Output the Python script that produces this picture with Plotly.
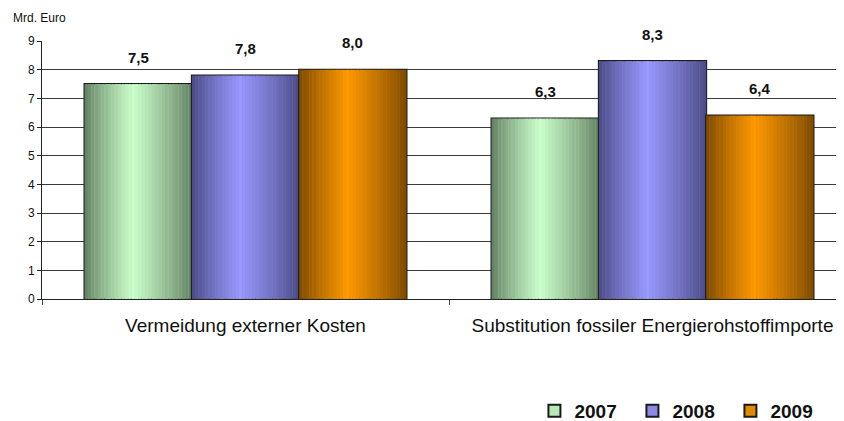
import plotly.graph_objects as go

categories = ["Vermeidung externer Kosten", "Substitution fossiler Energierohstoffimporte"]
years = ["2007", "2008", "2009"]
values_2007 = [7.5, 6.3]
values_2008 = [7.8, 8.3]
values_2009 = [8.0, 6.4]
series_values = [values_2007, values_2008, values_2009]
y_ticks = [0, 1, 2, 3, 4, 5, 6, 7, 8, 9]

# styling
dark_cols = [(95, 125, 95), (72, 72, 128), (118, 72, 0)]
light_cols = [(204, 255, 204), (153, 153, 255), (255, 153, 0)]
mid_cols = ["#b8e8b8", "#8a8ae6", "#e08a00"]
BAR_W = 0.2637
K = 32
PEAK = 0.45
FONT = "Liberation Sans, Arial, sans-serif"

cat_pos = list(range(len(categories)))

def grad_color(s, t):
    u = t / PEAK if t < PEAK else (1 - t) / (1 - PEAK)
    w = u ** 0.85
    d, l = dark_cols[s], light_cols[s]
    c = [round(d[i] + (l[i] - d[i]) * w) for i in range(3)]
    return f"rgb({c[0]},{c[1]},{c[2]})"

fig = go.Figure()
n = len(years)
for s, (yr, vals) in enumerate(zip(years, series_values)):
    off = -n * BAR_W / 2 + s * BAR_W
    # outline underneath (also legend entry)
    fig.add_trace(go.Bar(
        x=cat_pos, y=vals, name=yr, width=BAR_W, offset=off,
        marker=dict(color=mid_cols[s], line=dict(color="#1a1a1a", width=2)),
        showlegend=True, hoverinfo="skip"))
    for k in range(K):
        t = (k + 0.5) / K
        fig.add_trace(go.Bar(
            x=cat_pos, y=vals, width=BAR_W / K * 1.02, offset=off + k * BAR_W / K,
            marker=dict(color=grad_color(s, t), line=dict(width=0)),
            showlegend=False, hoverinfo="skip"))
    for c, v in zip(cat_pos, vals):
        fig.add_annotation(x=c + off + BAR_W / 2, y=v, yshift=27,
                           text=f"<b>{v:.1f}</b>".replace(".", ","), showarrow=False,
                           font=dict(family=FONT, size=15, color="#111"),
                           xanchor="center", yanchor="middle")

fig.add_annotation(xref="paper", yref="paper", x=0, y=1, xshift=-31, yshift=23,
                   text="Mrd. Euro", showarrow=False, xanchor="left", yanchor="middle",
                   font=dict(family=FONT, size=12, color="#111"))

# page body has an 8px margin, so the figure is shifted by 8px; compensate
fig.update_layout(
    width=836, height=413,
    margin=dict(l=34, r=0, t=33, b=122, autoexpand=False),
    paper_bgcolor="white", plot_bgcolor="white",
    barmode="overlay",
    font=dict(family=FONT, color="#111"),
    xaxis=dict(range=[-0.5, 1.4705], tickvals=cat_pos, ticktext=categories,
               ticks="", showgrid=False, zeroline=False, automargin=False,
               showline=True, linecolor="#222", linewidth=1,
               tickfont=dict(family=FONT, size=19, color="#111"),
               ticklabelstandoff=9,
               minor=dict(tickvals=[-0.5, 0.5, 1.5], ticks="outside", ticklen=5,
                          tickcolor="#444", tickwidth=1, showgrid=False)),
    yaxis=dict(range=[0, 9], tickvals=y_ticks, showgrid=True, gridcolor="#3a3a3a",
               gridwidth=1, zeroline=False, showline=True, linecolor="#222",
               linewidth=1, ticks="outside", ticklen=4, tickcolor="#222",
               automargin=False,
               tickfont=dict(family=FONT, size=12, color="#111")),
    legend=dict(orientation="h", x=0.614, y=-0.434, xanchor="left", yanchor="middle",
                font=dict(family=FONT, size=19, color="#111", weight="bold"),
                entrywidth=53, entrywidthmode="pixels", bgcolor="rgba(0,0,0,0)"),
)

fig.write_html("out.html")
